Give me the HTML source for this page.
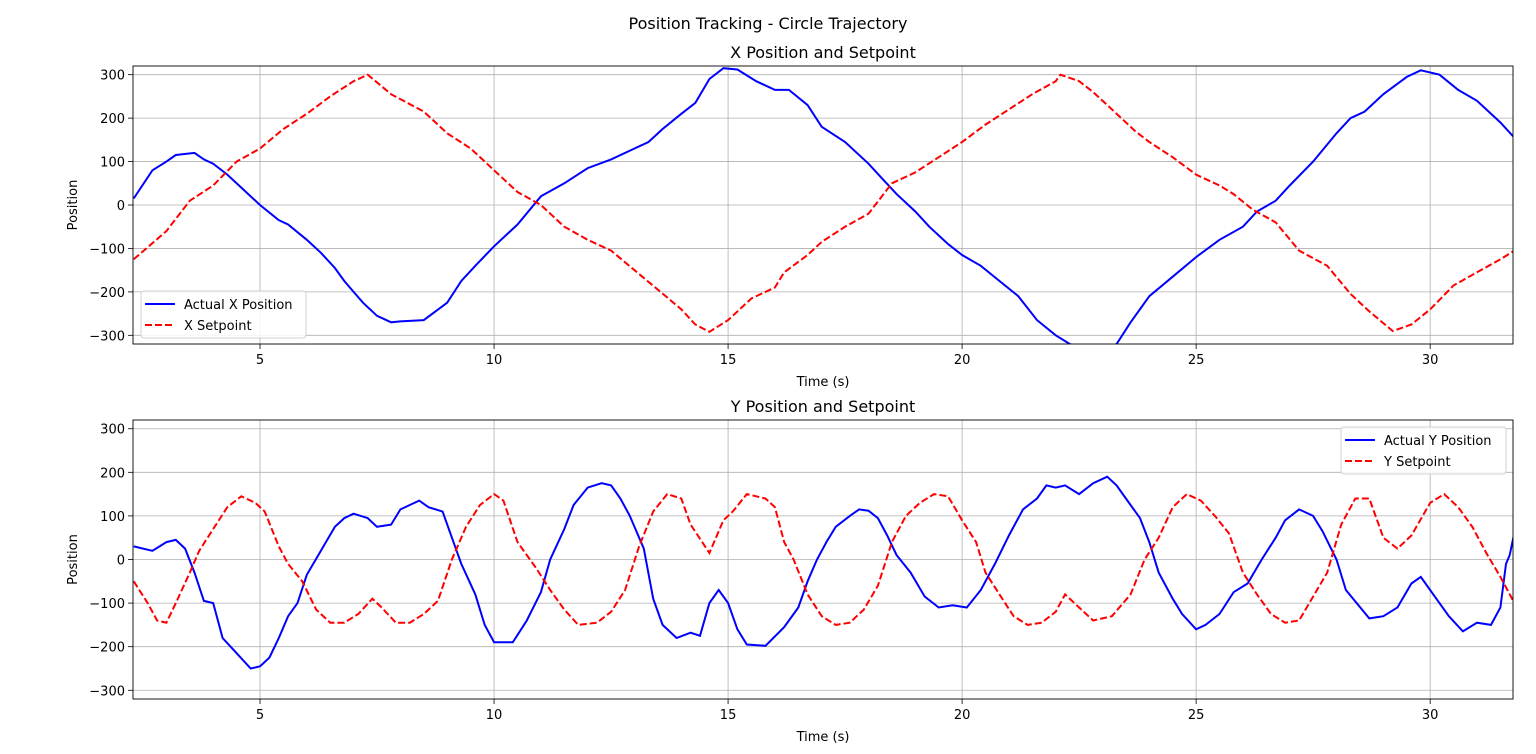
<!DOCTYPE html>
<html><head><meta charset="utf-8"><style>
html,body{margin:0;padding:0;background:#fff;}
svg{display:block;font-family:"DejaVu Sans","Liberation Sans",sans-serif;}
</style></head><body>
<svg id="fig" width="1536" height="754" viewBox="0 0 1536 754">
<rect width="1536" height="754" fill="#fff"/>
<text x="768" y="29" text-anchor="middle" font-size="16">Position Tracking - Circle Trajectory</text>
</svg>
<script>
const xTicks=[5,10,15,20,25,30];
const yTicks=[-300,-200,-100,0,100,200,300];
const xActT=[2.3,2.7,3.0,3.2,3.6,3.8,4.0,4.3,4.6,5.0,5.4,5.6,6.0,6.3,6.6,6.8,7.0,7.2,7.5,7.8,8.0,8.5,9.0,9.3,9.6,10.0,10.5,11.0,11.5,12.0,12.5,13.0,13.3,13.6,14.0,14.3,14.6,14.9,15.2,15.6,16.0,16.3,16.7,17.0,17.5,18.0,18.3,18.6,19.0,19.3,19.7,20.0,20.4,20.8,21.2,21.6,22.0,22.3,22.8,23.3,23.6,24.0,24.5,25.0,25.5,26.0,26.3,26.7,27.0,27.5,28.0,28.3,28.6,29.0,29.5,29.8,30.2,30.6,31.0,31.5,31.8];
const xActV=[15,80,100,115,120,105,95,70,40,0,-35,-45,-80,-110,-145,-175,-200,-225,-255,-270,-268,-265,-225,-175,-140,-95,-45,20,50,85,105,130,145,175,210,235,290,315,312,285,265,265,230,180,145,95,60,25,-15,-50,-90,-115,-140,-175,-210,-265,-300,-320,-340,-320,-270,-210,-165,-120,-80,-50,-15,10,45,100,165,200,215,255,295,310,300,265,240,190,155];
const xSetT=[2.3,3.0,3.5,4.0,4.5,5.0,5.5,6.0,6.5,7.0,7.3,7.8,8.5,9.0,9.5,10.0,10.5,11.0,11.5,12.0,12.5,13.0,13.5,14.0,14.3,14.6,15.0,15.5,16.0,16.2,16.7,17.0,17.5,18.0,18.5,19.0,19.5,20.0,20.5,21.0,21.5,22.0,22.1,22.5,22.8,23.2,23.7,24.0,24.5,25.0,25.5,25.8,26.2,26.7,27.2,27.8,28.3,28.7,29.2,29.6,30.0,30.5,31.0,31.5,31.8];
const xSetV=[-125,-60,10,45,100,130,175,210,250,285,300,255,215,165,130,80,30,0,-50,-80,-105,-150,-195,-240,-275,-292,-265,-215,-190,-155,-115,-85,-50,-20,50,75,110,145,185,220,255,285,300,285,260,220,170,145,110,70,45,25,-10,-40,-105,-140,-205,-245,-290,-275,-240,-185,-155,-125,-105];
const yActT=[2.3,2.7,3.0,3.2,3.4,3.6,3.8,4.0,4.2,4.5,4.8,5.0,5.2,5.4,5.6,5.8,6.0,6.3,6.6,6.8,7.0,7.3,7.5,7.8,8.0,8.2,8.4,8.6,8.9,9.1,9.3,9.6,9.8,10.0,10.4,10.7,11.0,11.2,11.5,11.7,12.0,12.3,12.5,12.7,12.9,13.2,13.4,13.6,13.9,14.2,14.4,14.6,14.8,15.0,15.2,15.4,15.8,16.2,16.5,16.7,16.9,17.1,17.3,17.6,17.8,18.0,18.2,18.4,18.6,18.9,19.2,19.5,19.8,20.1,20.4,20.7,21.0,21.3,21.6,21.8,22.0,22.2,22.5,22.8,23.1,23.3,23.5,23.8,24.0,24.2,24.5,24.7,25.0,25.2,25.5,25.8,26.1,26.4,26.7,26.9,27.2,27.5,27.7,28.0,28.2,28.7,29.0,29.3,29.6,29.8,30.1,30.4,30.7,31.0,31.3,31.5,31.62,31.7,31.8];
const yActV=[30,20,40,45,25,-30,-95,-100,-180,-215,-250,-245,-225,-180,-130,-100,-35,20,75,95,105,95,75,80,115,125,135,120,110,50,-10,-80,-150,-190,-190,-140,-75,0,70,125,165,175,170,140,100,25,-90,-150,-180,-168,-175,-100,-70,-100,-160,-195,-198,-155,-110,-50,0,40,75,100,115,112,95,55,10,-30,-85,-110,-105,-110,-70,-10,55,115,140,170,165,170,150,175,190,170,140,95,40,-30,-90,-125,-160,-150,-125,-75,-55,0,50,90,115,100,65,0,-70,-135,-130,-110,-55,-40,-85,-130,-165,-145,-150,-110,-10,10,62];
const ySetT=[2.3,2.6,2.8,3.0,3.2,3.5,3.7,4.0,4.3,4.6,4.9,5.1,5.4,5.6,5.9,6.2,6.5,6.8,7.1,7.4,7.6,7.9,8.2,8.5,8.8,9.1,9.4,9.7,10.0,10.2,10.5,10.9,11.2,11.5,11.8,12.2,12.5,12.8,13.1,13.4,13.7,14.0,14.2,14.6,14.9,15.1,15.4,15.8,16.0,16.2,16.4,16.7,17.0,17.3,17.6,17.9,18.2,18.5,18.8,19.1,19.4,19.7,20.0,20.3,20.5,20.8,21.1,21.4,21.7,22.0,22.2,22.5,22.8,23.2,23.6,23.9,24.2,24.5,24.8,25.1,25.4,25.7,26.0,26.3,26.6,26.9,27.2,27.5,27.8,28.1,28.4,28.7,29.0,29.3,29.6,30.0,30.3,30.6,30.9,31.2,31.5,31.8];
const ySetV=[-50,-100,-140,-145,-100,-30,20,70,120,145,130,110,30,-10,-50,-115,-145,-145,-125,-90,-110,-145,-145,-125,-95,0,75,125,150,135,40,-20,-70,-115,-150,-145,-120,-70,30,110,150,140,80,15,90,110,150,140,120,40,0,-80,-130,-150,-145,-115,-60,40,100,130,150,145,90,40,-30,-80,-130,-150,-145,-120,-80,-110,-140,-130,-80,0,50,120,150,135,100,60,-30,-80,-125,-145,-140,-85,-30,80,140,140,50,25,55,130,150,120,75,15,-40,-100];

const NS="http://www.w3.org/2000/svg";
const svg=document.getElementById('fig');
const L=133,R=1513,T0=2.286,T1=31.77,V0=-320,V1=320;
function mk(tag,attrs,parent){const e=document.createElementNS(NS,tag);for(const k in attrs)e.setAttribute(k,attrs[k]);(parent||svg).appendChild(e);return e;}
function panel(idx,top,bot,title,tA,vA,tS,vS,labA,labS,legX,legY){
  const sx=t=>L+(t-T0)/(T1-T0)*(R-L);
  const sy=v=>bot-(v-V0)/(V1-V0)*(bot-top);
  const g=mk('g',{});
  
  
  const cp=mk('clipPath',{id:'clip'+idx},g);
  mk('rect',{x:L,y:top,width:R-L,height:bot-top},cp);
  xTicks.forEach(t=>{
    const x=sx(t);
    const gl=mk('line',{x1:x,x2:x,y1:top,y2:bot,stroke:'#b0b0b0','stroke-width':0.8},g);
    
    
    mk('line',{x1:x,x2:x,y1:bot,y2:bot+5,stroke:'#000','stroke-width':0.8},g);
    const tx=mk('text',{x:x,y:bot+20,'text-anchor':'middle','font-size':13},g);
    tx.textContent=t;
    
    
  });
  yTicks.forEach(v=>{
    const y=sy(v);
    const gl=mk('line',{x1:L,x2:R,y1:y,y2:y,stroke:'#b0b0b0','stroke-width':0.8},g);
    
    
    mk('line',{x1:L-5,x2:L,y1:y,y2:y,stroke:'#000','stroke-width':0.8},g);
    const tx=mk('text',{x:L-8,y:y+5,'text-anchor':'end','font-size':13},g);
    tx.textContent=v<0?'\u2212'+Math.abs(v):v;
    
    
  });
  const ptsA=tA.map((t,i)=>sx(t).toFixed(1)+','+sy(vA[i]).toFixed(1)).join(' ');
  const pa=mk('polyline',{points:ptsA,fill:'none',stroke:'#0000ff','stroke-width':2,'clip-path':'url(#clip'+idx+')'},g);
  
  
  const ptsS=tS.map((t,i)=>sx(t).toFixed(1)+','+sy(vS[i]).toFixed(1)).join(' ');
  const ps=mk('polyline',{points:ptsS,fill:'none',stroke:'#ff0000','stroke-width':2,'stroke-dasharray':'7,3','clip-path':'url(#clip'+idx+')'},g);
  
  
  const fr=mk('rect',{x:L,y:top,width:R-L,height:bot-top,fill:'none',stroke:'#000','stroke-width':0.9},g);
  
  
  const ti=mk('text',{x:(L+R)/2,y:top-8,'text-anchor':'middle','font-size':16},g);
  ti.textContent=title;
  
  
  const xl=mk('text',{x:(L+R)/2,y:bot+42,'text-anchor':'middle','font-size':13},g);
  xl.textContent='Time (s)';
  
  
  const cy=(top+bot)/2;
  const yl=mk('text',{x:77,y:cy,'text-anchor':'middle','font-size':13,transform:'rotate(-90 77 '+cy+')'},g);
  yl.textContent='Position';
  
  
  const lg=mk('g',{},g);
  
  
  mk('rect',{x:legX,y:legY,width:165,height:47,rx:3,fill:'#fff','fill-opacity':0.85,stroke:'#d0d0d0','stroke-width':1},lg);
  mk('line',{x1:legX+4,x2:legX+34,y1:legY+13,y2:legY+13,stroke:'#0000ff','stroke-width':2},lg);
  mk('line',{x1:legX+4,x2:legX+34,y1:legY+34,y2:legY+34,stroke:'#ff0000','stroke-width':2,'stroke-dasharray':'7,3'},lg);
  const e1=mk('text',{x:legX+43,y:legY+18,'font-size':13},lg);
  e1.textContent=labA;
  
  
  const e2=mk('text',{x:legX+43,y:legY+39,'font-size':13},lg);
  e2.textContent=labS;
  
  
}
panel(1,66,344,'X Position and Setpoint',xActT,xActV,xSetT,xSetV,'Actual X Position','X Setpoint',141,291);
panel(2,420,699,'Y Position and Setpoint',yActT,yActV,ySetT,ySetV,'Actual Y Position','Y Setpoint',1341,427);
</script>
</body></html>
